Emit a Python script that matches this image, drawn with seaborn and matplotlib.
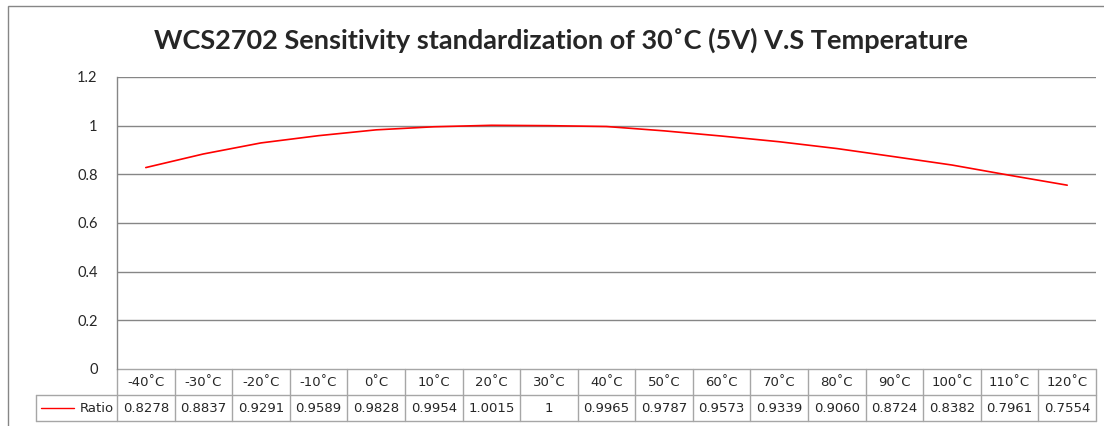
import numpy as np
import pandas as pd
import matplotlib
matplotlib.use("Agg")
import matplotlib.pyplot as plt
import matplotlib.transforms as mtransforms
from matplotlib.patches import Rectangle
from matplotlib.lines import Line2D
import seaborn as sns

temps = ["-40˚C", "-30˚C", "-20˚C", "-10˚C", "0˚C", "10˚C", "20˚C", "30˚C", "40˚C",
         "50˚C", "60˚C", "70˚C", "80˚C", "90˚C", "100˚C", "110˚C", "120˚C"]
ratio = [0.8278, 0.8837, 0.9291, 0.9589, 0.9828, 0.9954, 1.0015, 1, 0.9965,
         0.9787, 0.9573, 0.9339, 0.9060, 0.8724, 0.8382, 0.7961, 0.7554]
ratio_text = ["0.8278", "0.8837", "0.9291", "0.9589", "0.9828", "0.9954", "1.0015", "1",
              "0.9965", "0.9787", "0.9573", "0.9339", "0.9060", "0.8724", "0.8382",
              "0.7961", "0.7554"]
series_name = "Ratio"
title = "WCS2702 Sensitivity standardization of 30˚C (5V) V.S Temperature"

df = pd.DataFrame({"pos": np.arange(len(temps)), "temp": temps, "ratio": ratio})

sns.set_style("white")
plt.rcParams["font.family"] = ["Lato", "DejaVu Sans"]

W, H = 1104, 426
fig = plt.figure(figsize=(W / 100, H / 100), dpi=100)
L, R, T, B = 117, 1096, 77, 369
ax = fig.add_axes([L / W, 1 - B / H, (R - L) / W, (B - T) / H])

grid_c = "#868686"
tbl_c = "#a6a6a6"

sns.lineplot(data=df, x="pos", y="ratio", ax=ax, color="#ff0000", linewidth=1.2)

ax.set_xlim(-0.5, len(temps) - 0.5)
ax.set_ylim(0, 1.2)
ax.set_yticks(np.arange(0, 1.21, 0.2))
ax.set_yticklabels(["0", "0.2", "0.4", "0.6", "0.8", "1", "1.2"], fontsize=10.5)
ax.set_xticks([])
ax.set_xlabel("")
ax.set_ylabel("")
ax.tick_params(axis="y", length=0, pad=14)
for y in np.arange(0.2, 1.21, 0.2):
    ax.axhline(y, color=grid_c, lw=1, zorder=0)
for s in ["top", "right", "bottom"]:
    ax.spines[s].set_visible(False)
ax.spines["left"].set_color(grid_c)
ax.spines["left"].set_linewidth(1)

# data table under the plot
tr = mtransforms.blended_transform_factory(ax.transData, ax.transAxes)
row_h = 26 / (B - T)
n = len(temps)
lab_left = -0.5 - (L - 36) / ((R - L) / n)
kw = dict(transform=tr, clip_on=False, color=tbl_c, lw=1)
ax.add_line(Line2D([-0.5, n - 0.5], [0, 0], **kw))
ax.add_line(Line2D([lab_left, n - 0.5], [-row_h, -row_h], **kw))
ax.add_line(Line2D([lab_left, n - 0.5], [-2 * row_h, -2 * row_h], **kw))
ax.add_line(Line2D([lab_left, lab_left], [-row_h, -2 * row_h], **kw))
for i in range(n + 1):
    ax.add_line(Line2D([i - 0.5, i - 0.5], [0, -2 * row_h], **kw))
for i in range(n):
    ax.text(i, -0.5 * row_h, temps[i], transform=tr, ha="center", va="center",
            fontsize=9.5, family="DejaVu Sans")
    ax.text(i, -1.5 * row_h, ratio_text[i], transform=tr, ha="center", va="center",
            fontsize=9.5, family="DejaVu Sans")
ax.text(-0.55, -1.5 * row_h, series_name, transform=tr, ha="right", va="center",
        fontsize=9.5, family="DejaVu Sans")
lx0 = lab_left + 5 / ((R - L) / n)
lx1 = lab_left + 38 / ((R - L) / n)
ax.add_line(Line2D([lx0, lx1], [-1.5 * row_h, -1.5 * row_h], transform=tr,
                   clip_on=False, color="#ff0000", lw=1))

# outer chart border
fig.patches.append(Rectangle((8 / W, -0.1), 1.2, 1 - 6 / H + 0.1, transform=fig.transFigure,
                             fill=False, edgecolor=grid_c, lw=1))

fig.text(561 / W, 1 - 40 / H, title, ha="center", va="center", fontsize=19.5,
         fontweight="bold")

fig.savefig("out.png", dpi=100)
